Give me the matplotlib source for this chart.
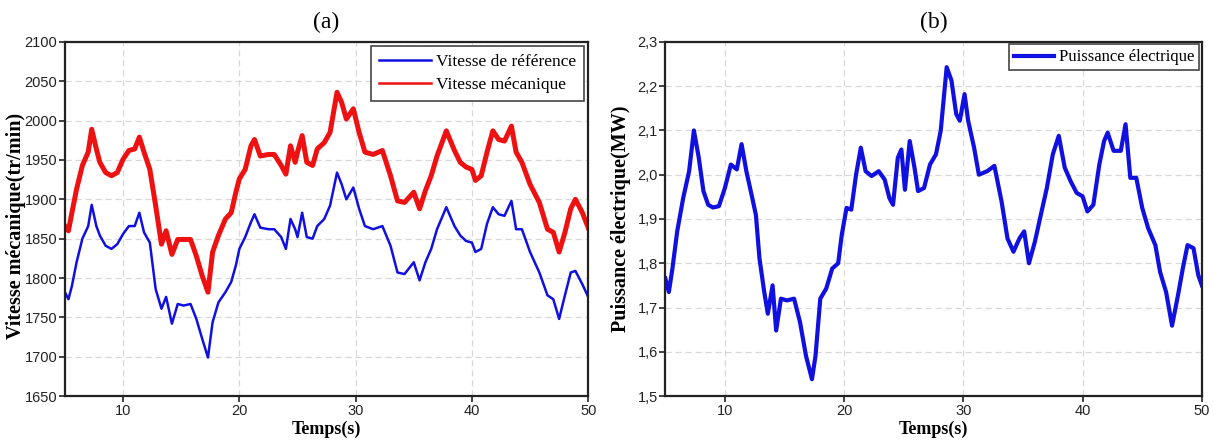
import numpy as np
import matplotlib
matplotlib.use('Agg')
import matplotlib.pyplot as plt
from matplotlib.ticker import FixedLocator

# --- data ---
t_speed = [5.0, 5.3, 5.6, 6.0, 6.5, 7.0, 7.3, 7.7, 8.0, 8.5, 9.0, 9.5, 10.0, 10.5, 11.0,
           11.4, 11.8, 12.3, 12.8, 13.3, 13.7, 14.2, 14.7, 15.2, 15.8, 16.3, 16.8, 17.3,
           17.7, 18.2, 18.8, 19.3, 19.7, 20.0, 20.5, 21.0, 21.3, 21.8, 22.5, 23.0, 23.6,
           24.0, 24.4, 24.8, 25.0, 25.4, 25.8, 26.3, 26.7, 27.3, 27.8, 28.4, 28.8, 29.2,
           29.8, 30.3, 30.8, 31.5, 32.3, 33.0, 33.6, 34.2, 35.0, 35.5, 36.0, 36.5, 37.0,
           37.8, 38.5, 39.0, 39.5, 40.0, 40.3, 40.8, 41.3, 41.8, 42.3, 42.8, 43.4, 43.8,
           44.3, 45.0, 45.8, 46.5, 47.0, 47.5, 48.0, 48.5, 48.9, 49.5, 50.0]

vitesse_ref = [1782, 1773, 1790, 1820, 1850, 1866, 1893, 1866, 1854, 1841, 1837, 1843, 1856,
               1866, 1866, 1883, 1858, 1845, 1786, 1761, 1776, 1742, 1767, 1765, 1767, 1748,
               1723, 1699, 1744, 1769, 1782, 1795, 1816, 1837, 1852, 1871, 1881, 1864, 1862,
               1862, 1852, 1837, 1875, 1862, 1852, 1883, 1852, 1850, 1866, 1875, 1892, 1934,
               1919, 1900, 1915, 1888, 1866, 1862, 1866, 1841, 1807, 1805, 1820, 1797, 1820,
               1837, 1862, 1890, 1866, 1854, 1847, 1845, 1833, 1837, 1869, 1890, 1881, 1879,
               1898, 1862, 1862, 1833, 1807, 1778, 1773, 1748, 1778, 1807, 1809, 1792, 1776]

vitesse_meca = [1866, 1860, 1883, 1913, 1943, 1960, 1989, 1964, 1947, 1934, 1930, 1934, 1951,
                1962, 1964, 1979, 1960, 1938, 1892, 1843, 1860, 1830, 1849, 1849, 1849, 1828,
                1803, 1782, 1833, 1854, 1875, 1883, 1909, 1926, 1938, 1968, 1976, 1955, 1957,
                1957, 1943, 1932, 1968, 1947, 1960, 1981, 1947, 1943, 1964, 1972, 1985, 2036,
                2023, 2002, 2015, 1985, 1960, 1957, 1962, 1930, 1898, 1896, 1909, 1888, 1911,
                1930, 1955, 1987, 1962, 1947, 1941, 1938, 1924, 1930, 1960, 1987, 1976, 1974,
                1993, 1960, 1947, 1919, 1896, 1862, 1858, 1833, 1858, 1888, 1900, 1883, 1864]

t_power = [5.0, 5.3, 5.6, 6.0, 6.5, 7.0, 7.4, 7.8, 8.2, 8.6, 9.0, 9.5, 10.0, 10.5, 11.0, 11.4,
           11.8, 12.3, 12.6, 12.9, 13.3, 13.6, 14.0, 14.3, 14.7, 15.2, 15.8, 16.3, 16.8, 17.3,
           17.6, 18.0, 18.5, 19.0, 19.5, 19.8, 20.2, 20.6, 21.0, 21.4, 21.8, 22.3, 22.9, 23.4,
           23.8, 24.1, 24.5, 24.8, 25.1, 25.5, 25.9, 26.2, 26.7, 27.2, 27.7, 28.1, 28.6, 29.0,
           29.4, 29.7, 30.1, 30.4, 30.9, 31.3, 32.0, 32.6, 33.2, 33.7, 34.2, 34.7, 35.1, 35.5,
           36.0, 36.5, 37.0, 37.5, 38.0, 38.5, 39.0, 39.5, 40.0, 40.4, 40.9, 41.4, 41.8, 42.1,
           42.6, 43.2, 43.6, 44.0, 44.5, 45.0, 45.5, 46.1, 46.5, 47.0, 47.5, 48.0, 48.4, 48.8,
           49.3, 49.7, 50.0]

puissance = [1.766, 1.735, 1.788, 1.872, 1.947, 2.008, 2.100, 2.040, 1.963, 1.932, 1.926, 1.929,
             1.970, 2.023, 2.012, 2.069, 2.008, 1.947, 1.909, 1.811, 1.735, 1.686, 1.750, 1.648,
             1.720, 1.716, 1.720, 1.667, 1.591, 1.538, 1.591, 1.720, 1.743, 1.788, 1.800, 1.864,
             1.925, 1.921, 2.000, 2.061, 2.008, 1.997, 2.008, 1.989, 1.947, 1.932, 2.038, 2.057,
             1.966, 2.076, 2.016, 1.963, 1.970, 2.023, 2.046, 2.099, 2.243, 2.213, 2.137, 2.122,
             2.182, 2.122, 2.061, 2.000, 2.008, 2.020, 1.940, 1.856, 1.826, 1.856, 1.872, 1.800,
             1.849, 1.910, 1.970, 2.046, 2.088, 2.016, 1.985, 1.959, 1.951, 1.917, 1.932, 2.023,
             2.076, 2.095, 2.054, 2.054, 2.114, 1.993, 1.993, 1.925, 1.879, 1.841, 1.780, 1.735,
             1.659, 1.728, 1.788, 1.841, 1.834, 1.773, 1.750]

x_ticks = [10, 20, 30, 40, 50]
speed_ticks = [1650, 1700, 1750, 1800, 1850, 1900, 1950, 2000, 2050, 2100]
power_ticks = [1.5, 1.6, 1.7, 1.8, 1.9, 2.0, 2.1, 2.2, 2.3]
power_ticklabels = ['1,5', '1,6', '1,7', '1,8', '1,9', '2,0', '2,1', '2,2', '2,3']

SERIF = ['Liberation Serif', 'DejaVu Serif']
NARROW = ['Liberation Sans Narrow', 'Liberation Sans', 'DejaVu Sans']


def style_axes(ax):
    ax.set_xlim(5, 50)
    ax.xaxis.set_major_locator(FixedLocator(x_ticks))
    ax.grid(True, color='#d8d8d8', linestyle=(0, (5, 3)), linewidth=0.9)
    for sp in ax.spines.values():
        sp.set_color('#222222')
        sp.set_linewidth(1.6)
    ax.tick_params(direction='out', length=4, width=1.2, colors='#222222',
                   labelsize=10.5, pad=1.5)
    for lab in ax.get_xticklabels() + ax.get_yticklabels():
        lab.set_family(NARROW)
    ax.set_xlabel('Temps(s)', family=SERIF, fontweight='bold', fontsize=13, labelpad=2)


fig = plt.figure(figsize=(12.14, 4.46), dpi=100)
ax1 = fig.add_axes([0.0535, 0.112, 0.431, 0.794])
ax2 = fig.add_axes([0.548, 0.112, 0.442, 0.794])

# (a) speed
ax1.plot(t_speed, vitesse_ref, color='#1010e0', linewidth=1.8, label='Vitesse de référence')
ax1.plot(t_speed, vitesse_meca, color='#ee1111', linewidth=3.6, label='Vitesse mécanique')
ax1.set_ylim(1650, 2100)
ax1.yaxis.set_major_locator(FixedLocator(speed_ticks))
style_axes(ax1)
ax1.set_ylabel('Vitesse mécanique(tr/min)', family=SERIF, fontweight='bold', fontsize=14.5)
ax1.yaxis.set_label_coords(-0.075, 0.48)
ax1.set_title('(a)', family=SERIF, fontsize=17, pad=10)
leg1 = ax1.legend(loc='upper right', prop={'family': SERIF, 'size': 12.5}, fancybox=False,
                  framealpha=1, edgecolor='#444444', handlelength=3.0, borderaxespad=0.25,
                  handletextpad=0.3, labelspacing=0.4, borderpad=0.45)
leg1.get_frame().set_linewidth(1.2)
for ln in leg1.get_lines():
    ln.set_linewidth(1.8)

# (b) power
ax2.plot(t_power, puissance, color='#1010e0', linewidth=3.0, label='Puissance électrique')
ax2.set_ylim(1.5, 2.3)
ax2.yaxis.set_major_locator(FixedLocator(power_ticks))
ax2.set_yticklabels(power_ticklabels)
style_axes(ax2)
ax2.set_ylabel('Puissance électrique(MW)', family=SERIF, fontweight='bold', fontsize=14.5)
ax2.yaxis.set_label_coords(-0.064, 0.5)
ax2.set_title('(b)', family=SERIF, fontsize=17, pad=10)
leg2 = ax2.legend(loc='upper right', prop={'family': SERIF, 'size': 12}, fancybox=False,
                  framealpha=1, edgecolor='#444444', handlelength=2.4, borderaxespad=0.15,
                  handletextpad=0.3, borderpad=0.3)
leg2.get_frame().set_linewidth(1.2)

fig.savefig('out.png', dpi=100)
